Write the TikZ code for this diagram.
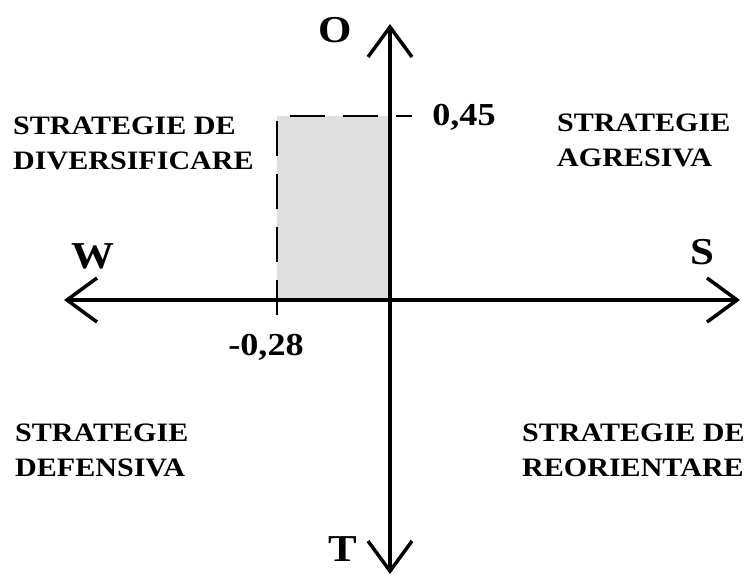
\documentclass[tikz,border=0pt]{standalone}
\usepackage{fontspec}
\setmainfont{Liberation Serif}[FakeStretch=1.13]
\usetikzlibrary{arrows.meta}

\begin{document}
\begin{tikzpicture}[x=1pt, y=-1pt, >={Straight Barb[length=30pt,width=44pt,line width=3.5pt]},
	axis/.style={line width=4pt, ->},
	guide/.style={line width=2.4pt, dash pattern=on 35pt off 18pt},
	quad/.style={font=\bfseries\fontsize{26.6}{35}\selectfont, align=left, anchor=west, inner sep=0pt},
	pole/.style={font=\fontsize{38}{38}\selectfont\bfseries, inner sep=0pt},
	val/.style={font=\fontsize{32}{32}\selectfont\bfseries, inner sep=0pt}]
	\useasboundingbox (0,0) rectangle (749,578);
	\coordinate (origin) at (390,300);
	\coordinate (west) at (64,300);
	\coordinate (east) at (740,300);
	\coordinate (north) at (390,24);
	\coordinate (south) at (390,574);
	% shaded area
	\fill[gray!25] (277,116) rectangle (origin);
	\draw[guide] (277,315) -- (277,116) -- (412,116);
	\draw[axis] (origin) -- (west);
	\draw[axis] (origin) -- (east);
	\draw[axis] (origin) -- (north);
	\draw[axis] (origin) -- (south);
	\node[pole] (o) at (335,30) {O};
	\node[pole] (t) at (343,549) {T};
	\node[pole] (w) at (93,256) {W};
	\node[pole] (s) at (702,252) {S};
	\node[val] (v045) at (464,117) {0,45};
	\node[val] (v028) at (266,347) {-0,28};
	\foreach \nm/\x/\y/\txt in {div/13/143/{STRATEGIE DE\\DIVERSIFICARE}, agr/557/140/{STRATEGIE\\AGRESIVA},
		def/15/450/{STRATEGIE\\DEFENSIVA}, reo/522/450/{STRATEGIE DE\\REORIENTARE}} {
		\node[quad] (\nm) at (\x,\y) {\txt};
	}
\end{tikzpicture}
\end{document}
